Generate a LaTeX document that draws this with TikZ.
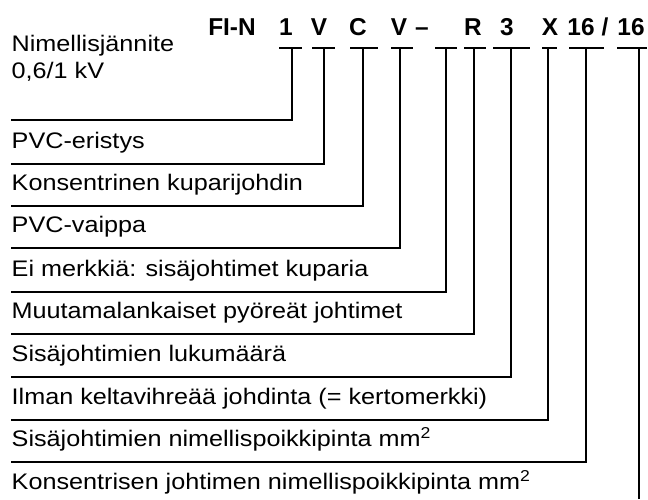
\documentclass[tikz,border=0pt]{standalone}
\usepackage{fontspec}
\setmainfont{Liberation Sans}[FakeStretch=1.12]
\newfontfamily\headfont{Liberation Sans}
\begin{document}
\begin{tikzpicture}[x=1pt,y=-1pt,line width=1.4pt,
    lbl/.style={anchor=base west,inner sep=0pt,font=\fontsize{22.5}{26.7}\selectfont,align=left},
    head/.style={anchor=base,inner sep=0pt,font=\headfont\bfseries\fontsize{24.4}{28}\selectfont}]
    \useasboundingbox (0,0) rectangle (648,499);
    % code letters
    \node[head] (fin) at (232,35) {FI-N};
    \node[head] (h1) at (286,35) {1};
    \node[head] (h2) at (319,35) {V};
    \node[head] (h3) at (358,35) {C};
    \node[head] (h4) at (399,35) {V};
    \node[head] (h5) at (422,35) {\textendash};
    \node[head] (h6) at (473,35) {R};
    \node[head] (h7) at (507,35) {3};
    \node[head] (h8) at (550,35) {X};
    \node[head] (h9) at (581,35) {16};
    \node[head] (hs) at (605,35) {/};
    \node[head] (h10) at (631,35) {16};
    % ticks and leaders
    \foreach \n/\x/\a/\b/\y in {1/292/279/302/120, 2/324/312/335/164, 3/363/350/378/206,
        4/400/391/413/248, 5/446/435/457/292, 6/474/464/486/334, 7/511/493/530/377,
        8/548/542/557/420, 9/586/569/604/462}{
        \coordinate (t\n) at (\x,48);
        \coordinate (l\n) at (11,\y);
        \draw (\a,48) -- (\b,48);
        \draw (l\n) -| (t\n);
    }
    \coordinate (t10) at (639,48);
    \coordinate (l10) at (639,499);
    \draw (617,48) -- (647,48);
    \draw (l10) -- (t10);
    % labels
    \node[lbl] (r1) at (11,78) {Nimellisjännite\\0,6/1 kV};
    \node[lbl] (r2) at (11,148) {PVC-eristys};
    \node[lbl] (r3) at (11,190) {Konsentrinen kuparijohdin};
    \node[lbl] (r4) at (11,232) {PVC-vaippa};
    \node[lbl] (r5) at (11,276) {Ei merkkiä: sisäjohtimet kuparia};
    \node[lbl] (r6) at (11,318) {Muutamalankaiset pyöreät johtimet};
    \node[lbl] (r7) at (11,361) {Sisäjohtimien lukumäärä};
    \node[lbl] (r8) at (11,404) {Ilman keltavihreää johdinta (= kertomerkki)};
    \node[lbl] (r9) at (11,446) {Sisäjohtimien nimellispoikkipinta mm\textsuperscript{2}};
    \node[lbl] (r10) at (11,489) {Konsentrisen johtimen nimellispoikkipinta mm\textsuperscript{2}};
\end{tikzpicture}
\end{document}
